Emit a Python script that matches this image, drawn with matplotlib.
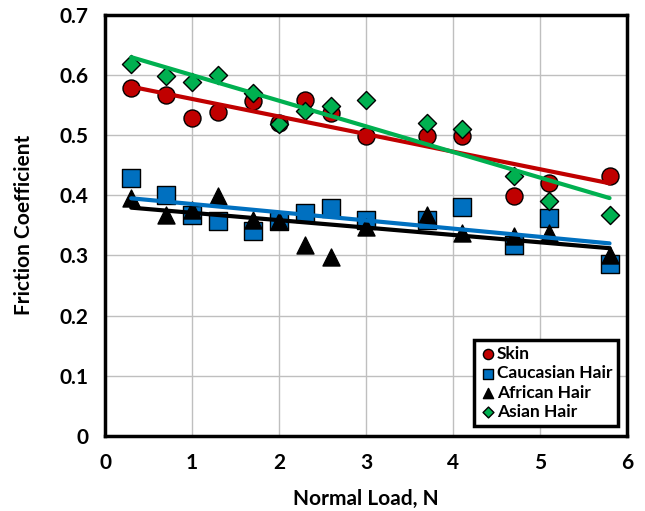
import numpy as np
import matplotlib
matplotlib.use("Agg")
import matplotlib.pyplot as plt

plt.rcParams['font.family'] = ['Lato', 'DejaVu Sans']
plt.rcParams['font.weight'] = 'bold'

load = [0.3, 0.7, 1.0, 1.3, 1.7, 2.0, 2.3, 2.6, 3.0, 3.7, 4.1, 4.7, 5.1, 5.8]
skin = [0.578, 0.567, 0.528, 0.538, 0.556, 0.520, 0.559, 0.537, 0.499, 0.499, 0.499, 0.399, 0.421, 0.432]
caucasian = [0.429, 0.401, 0.368, 0.357, 0.340, 0.357, 0.371, 0.379, 0.359, 0.359, 0.380, 0.318, 0.362, 0.285]
african = [0.396, 0.368, 0.376, 0.398, 0.359, 0.358, 0.318, 0.298, 0.348, 0.368, 0.337, 0.332, 0.337, 0.301]
asian = [0.619, 0.599, 0.588, 0.600, 0.570, 0.518, 0.540, 0.549, 0.559, 0.520, 0.510, 0.432, 0.390, 0.368]

series = [
    ("Skin", skin, "o", "#C00000", 150),
    ("Caucasian Hair", caucasian, "s", "#0070C0", 150),
    ("African Hair", african, "^", "black", 150),
    ("Asian Hair", asian, "D", "#00B050", 85),
]

fig = plt.figure(figsize=(6.45, 5.11), dpi=100)
ax = fig.add_axes([0.163, 0.147, 0.809, 0.824])

x = np.array(load)
for i, (name, vals, mk, col, sz) in enumerate(series):
    ax.scatter(x, vals, marker=mk, s=sz, c=col, edgecolors="black",
               linewidths=1.0, label=name, zorder=3 + i)
# linear trend lines
for name, vals, mk, col, sz in series:
    k, b = np.polyfit(x, vals, 1)
    xx = np.array([x.min(), x.max()])
    ax.plot(xx, k * xx + b, color=col, lw=3, zorder=8, solid_capstyle="round")

ax.set_xlim(0, 6)
ax.set_ylim(0, 0.7)
ax.set_xticks(range(0, 7))
ax.set_yticks(np.arange(0, 0.71, 0.1))
ax.set_yticklabels(["0", "0.1", "0.2", "0.3", "0.4", "0.5", "0.6", "0.7"])
ax.grid(True, color="#bfbfbf", lw=1)
ax.set_axisbelow(True)
ax.tick_params(length=0, labelsize=15, pad=12)
for sp in ax.spines.values():
    sp.set_linewidth(2.5)
    sp.set_color("black")

ax.set_xlabel("Normal Load, N", fontsize=15, fontweight="bold", labelpad=12)
ax.set_ylabel("Friction Coefficient", fontsize=15, fontweight="bold", labelpad=18)

leg = ax.legend(loc="lower right", bbox_to_anchor=(0.99, 0.015), fontsize=12.5,
                markerscale=0.6, handletextpad=0.05, handlelength=0.9,
                borderpad=0.35, labelspacing=0.2, fancybox=False,
                framealpha=1, borderaxespad=0.2)
leg.get_frame().set_edgecolor("black")
leg.get_frame().set_linewidth(2.5)

fig.savefig("out.png", dpi=100)
